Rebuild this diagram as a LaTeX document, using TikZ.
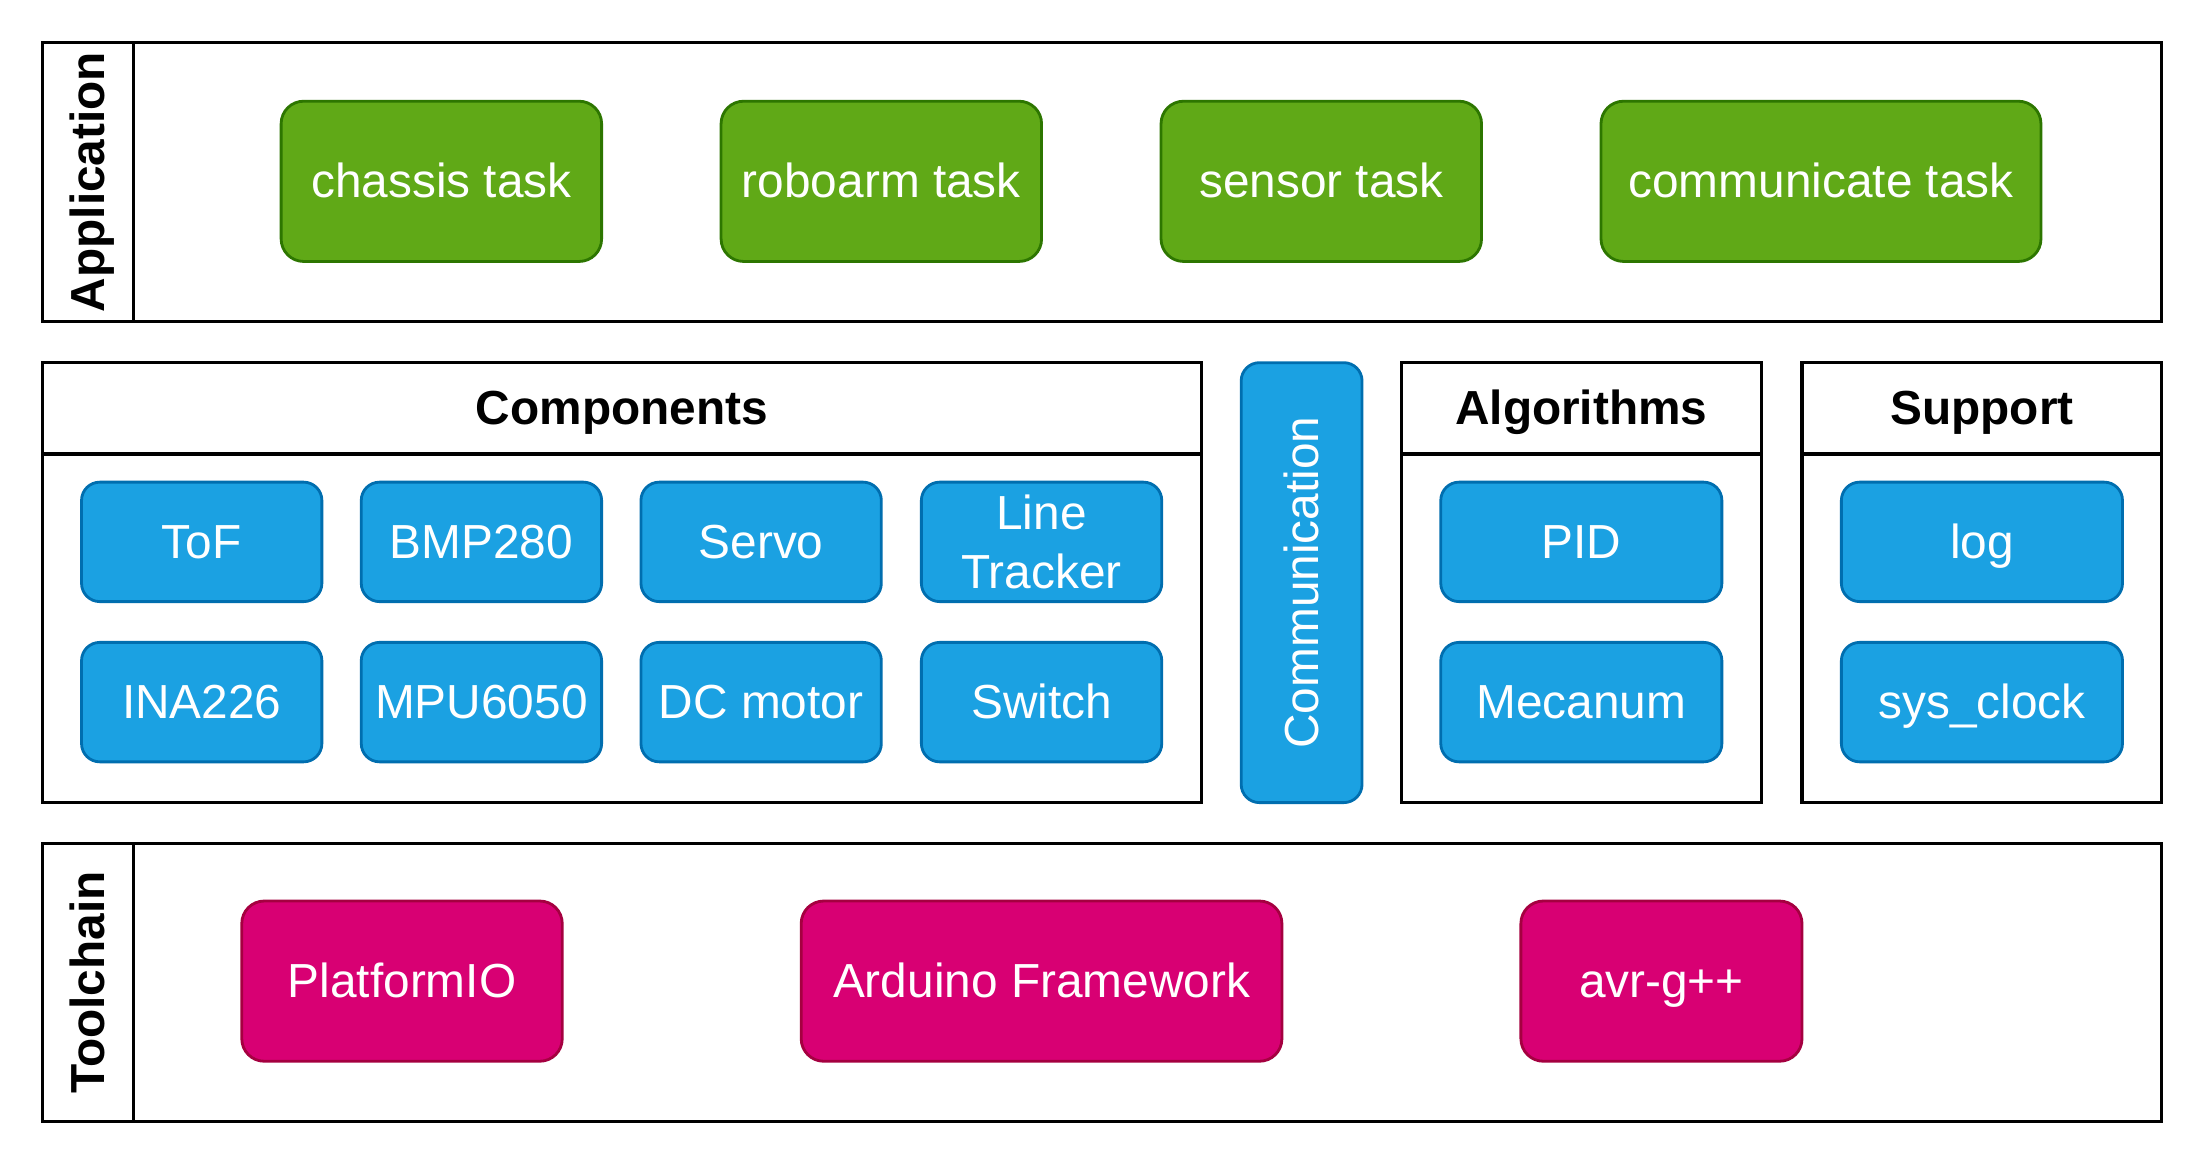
\documentclass[tikz,border=0pt]{standalone}
\usepackage{fontspec}
\setmainfont{Liberation Sans}
\definecolor{gfill}{HTML}{60A917}
\definecolor{gline}{HTML}{2D7600}
\definecolor{bfill}{HTML}{1BA1E2}
\definecolor{bline}{HTML}{006EAF}
\definecolor{pfill}{HTML}{D80073}
\definecolor{pline}{HTML}{A50040}
\tikzset{
  txt/.style={font=\fontsize{34}{42.5}\selectfont, align=center, inner sep=0pt},
  oneline/.style={text height=32.2pt, text depth=8.6pt},
  panel/.style={draw=black, line width=2.2pt, fill=white, inner sep=0pt},
  headtxt/.style={font=\fontsize{34}{42.5}\selectfont\bfseries, oneline},
  gbox/.style={txt, oneline, draw=gline, fill=gfill, text=white, line width=2pt, rounded corners=16pt, minimum width=228pt, minimum height=114pt},
  bbox/.style={txt, oneline, draw=bline, fill=bfill, text=white, line width=2pt, rounded corners=13pt, minimum width=171pt, minimum height=85pt},
  pbox/.style={txt, oneline, draw=pline, fill=pfill, text=white, line width=2pt, rounded corners=16pt, minimum width=228pt, minimum height=114pt},
}
\begin{document}
\begin{tikzpicture}[x=1pt, y=-1pt]
\useasboundingbox (0,0) rectangle (1568,831);
% Application layer
\node[panel, minimum width=1508pt, minimum height=199pt] (app) at (784,129.5) {};
\node[panel, headtxt, rotate=90, minimum width=199pt, minimum height=65pt] (applbl) at (62.5,129.5) {Application};
\node[gbox] (chassis) at (314,129) {chassis task};
\node[gbox] (roboarm) at (627,129) {roboarm task};
\node[gbox] (sensor) at (940,129) {sensor task};
\node[gbox, minimum width=313pt] (commtask) at (1295.5,129) {communicate task};
% Components
\node[panel, minimum width=825pt, minimum height=248pt] (compbody) at (442.5,447) {};
\node[panel, headtxt, minimum width=825pt, minimum height=65pt] (comphead) at (442.5,290.5) {Components};
\node[bbox] (tof) at (143.5,385.5) {ToF};
\node[bbox] (bmp) at (342.5,385.5) {BMP280};
\node[bbox] (servo) at (541.5,385.5) {Servo};
\node[bbox, text height=, text depth=] (line) at (741,385.5) {Line\\Tracker};
\node[bbox] (ina) at (143.5,499.5) {INA226};
\node[bbox] (mpu) at (342.5,499.5) {MPU6050};
\node[bbox] (dc) at (541.5,499.5) {DC motor};
\node[bbox] (switch) at (741,499.5) {Switch};
% Communication
\node[bbox, rotate=90, minimum width=313pt, minimum height=86pt] (comm) at (926,414.5) {Communication};
% Algorithms
\node[panel, minimum width=256pt, minimum height=248pt] (algbody) at (1125,447) {};
\node[panel, headtxt, minimum width=256pt, minimum height=65pt] (alghead) at (1125,290.5) {Algorithms};
\node[bbox, minimum width=200pt] (pid) at (1125,385.5) {PID};
\node[bbox, minimum width=200pt] (mecanum) at (1125,499.5) {Mecanum};
% Support
\node[panel, minimum width=256pt, minimum height=248pt] (supbody) at (1410,447) {};
\node[panel, headtxt, minimum width=256pt, minimum height=65pt] (suphead) at (1410,290.5) {Support};
\node[bbox, minimum width=200pt] (log) at (1410,385.5) {log};
\node[bbox, minimum width=200pt] (sysclock) at (1410,499.5) {sys\_clock};
% Toolchain
\node[panel, minimum width=1508pt, minimum height=198pt] (tool) at (784,699) {};
\node[panel, headtxt, rotate=90, minimum width=198pt, minimum height=65pt] (toollbl) at (62.5,699) {Toolchain};
\node[pbox] (pio) at (286,698) {PlatformIO};
\node[pbox, minimum width=342pt] (arduino) at (741,698) {Arduino Framework};
\node[pbox, minimum width=200pt] (avr) at (1182,698) {avr-g++};
\end{tikzpicture}
\end{document}
